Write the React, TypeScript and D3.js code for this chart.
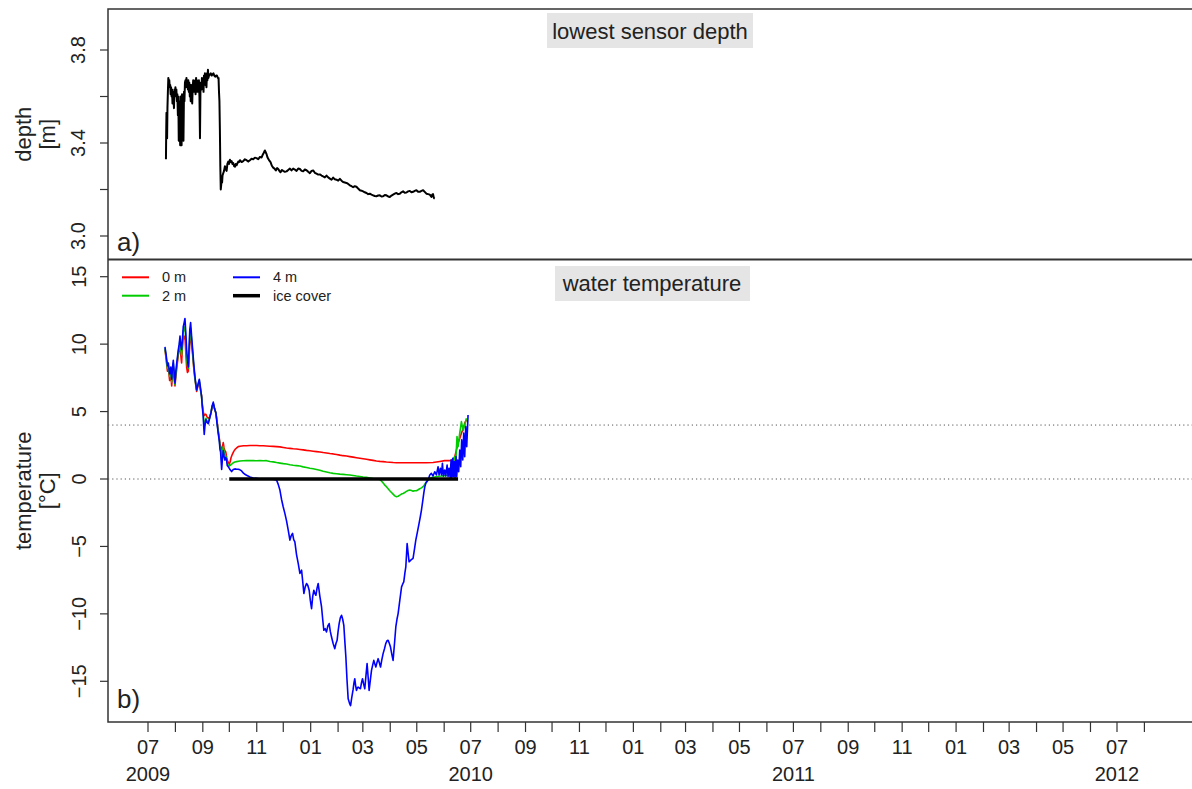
import React from "react";
import * as d3 from "d3";

// time origin: day offsets are counted from 2009-07-01 (UTC)
const T0 = Date.UTC(2009, 6, 1);
const toDate = (d: number) => new Date(T0 + d * 864e5);

// a) lowest sensor depth [m]  — [day since 2009-07-01, depth]
const depthSeries: [number, number][] = [
  [20.3,3.33],[20.6,3.45],[20.9,3.53],[21.2,3.44],[21.6,3.42],[22.0,3.55],[22.5,3.62],[23.0,3.68],[23.5,3.66],[24.1,3.67],
  [24.6,3.64],[25.1,3.65],[25.6,3.61],[26.1,3.64],[26.7,3.60],[27.2,3.63],[27.7,3.57],[28.3,3.62],[28.8,3.59],[29.4,3.55],
  [29.9,3.63],[30.4,3.60],[31.0,3.64],[31.6,3.61],[32.1,3.63],[32.7,3.58],[33.2,3.61],[33.8,3.52],[34.3,3.60],[34.8,3.41],
  [35.4,3.58],[35.9,3.46],[36.4,3.39],[36.9,3.60],[37.4,3.50],[38.0,3.39],[38.5,3.61],[39.0,3.44],[39.5,3.56],[40.1,3.41],
  [40.7,3.62],[41.2,3.58],[41.8,3.66],[42.4,3.67],[42.9,3.64],[43.5,3.68],[44.0,3.65],[44.6,3.67],[45.1,3.63],[45.6,3.67],
  [46.2,3.62],[46.7,3.66],[47.3,3.60],[47.8,3.64],[48.3,3.58],[48.9,3.65],[49.4,3.61],[50.0,3.57],[50.5,3.63],[51.1,3.67],
  [51.6,3.62],[52.2,3.66],[52.7,3.63],[53.3,3.67],[53.8,3.61],[54.4,3.68],[54.9,3.64],[55.4,3.67],[56.0,3.62],[56.5,3.66],
  [57.1,3.63],[57.6,3.67],[58.2,3.60],[58.8,3.42],[59.3,3.62],[59.9,3.66],[60.5,3.63],[61.0,3.68],[61.6,3.64],[62.2,3.67],
  [62.8,3.62],[63.3,3.69],[63.9,3.66],[64.4,3.70],[65.0,3.65],[65.5,3.68],[66.1,3.64],[66.7,3.70],[67.2,3.67],[67.8,3.715],
  [68.3,3.68],[69.0,3.69],[70.0,3.695],[71.0,3.70],[72.0,3.69],[73.0,3.695],[74.0,3.70],[75.0,3.69],[76.0,3.685],[77.0,3.69],
  [78.0,3.69],[79.0,3.68],[79.8,3.68],[80.3,3.62],[80.8,3.58],[81.3,3.46],[81.8,3.30],[82.3,3.20],[82.8,3.22],[83.3,3.25],
  [83.8,3.23],[84.3,3.26],[85.1,3.27],[86.0,3.28],[87.0,3.30],[87.8,3.29],[88.9,3.28],[89.8,3.31],[90.8,3.32],[91.7,3.31],
  [92.7,3.328],[93.6,3.318],[94.6,3.322],[95.5,3.31],[96.4,3.314],[97.4,3.30],[98.3,3.298],[99.2,3.31],[100.2,3.304],[101.1,3.312],
  [102.1,3.32],[103.0,3.318],[104.0,3.326],[105.9,3.318],[107.7,3.322],[109.6,3.33],[111.5,3.326],[113.4,3.32],[115.3,3.326],[117.1,3.332],
  [119.0,3.33],[120.9,3.337],[122.8,3.335],[124.7,3.33],[126.6,3.34],[128.5,3.338],[129.6,3.348],[131.0,3.358],[132.2,3.368],[133.1,3.36],
  [134.1,3.352],[135.0,3.34],[136.0,3.332],[137.3,3.324],[138.6,3.318],[140.1,3.302],[141.6,3.294],[143.1,3.29],[144.6,3.282],[146.0,3.292],
  [147.3,3.288],[148.6,3.28],[149.9,3.274],[151.4,3.284],[152.9,3.28],[154.8,3.276],[156.7,3.278],[158.6,3.284],[160.5,3.29],[162.3,3.282],
  [164.2,3.29],[166.1,3.286],[168.0,3.28],[169.9,3.29],[171.8,3.288],[173.7,3.28],[175.5,3.278],[177.4,3.286],[179.3,3.283],[181.2,3.276],
  [183.1,3.27],[185.0,3.28],[186.8,3.282],[188.7,3.272],[190.6,3.268],[192.5,3.264],[194.4,3.265],[196.3,3.26],[198.1,3.256],[200.0,3.252],
  [201.9,3.26],[203.8,3.252],[205.7,3.247],[207.6,3.242],[209.4,3.251],[211.3,3.244],[213.2,3.242],[215.1,3.238],[217.0,3.246],[218.9,3.238],
  [220.7,3.232],[222.6,3.23],[224.5,3.228],[226.4,3.224],[228.3,3.218],[230.2,3.214],[232.0,3.21],[233.9,3.214],[235.8,3.212],[237.7,3.204],
  [239.6,3.197],[241.5,3.195],[243.3,3.192],[245.2,3.188],[247.1,3.185],[249.0,3.18],[250.9,3.182],[252.8,3.178],[254.6,3.175],[256.5,3.172],
  [258.4,3.171],[260.3,3.174],[262.2,3.175],[264.1,3.17],[265.9,3.171],[267.8,3.176],[269.7,3.175],[271.6,3.17],[273.5,3.168],[275.4,3.174],
  [277.2,3.178],[279.1,3.182],[281.0,3.185],[282.9,3.18],[284.8,3.182],[286.6,3.188],[288.5,3.192],[290.4,3.186],[292.3,3.187],[294.2,3.192],
  [296.1,3.194],[298.0,3.188],[299.9,3.19],[301.7,3.194],[303.6,3.197],[305.5,3.19],[307.4,3.19],[309.3,3.194],[311.2,3.197],[313.0,3.19],
  [314.9,3.182],[316.8,3.18],[318.7,3.178],[320.6,3.168],[321.5,3.178],[322.4,3.18],[323.4,3.163],[324.3,3.161],
];

// b) water temperature [°C] — [day since 2009-07-01, temperature]
const temp0m: [number, number][] = [
  [19.2,9.6],[20.5,8.9],[22.0,8.0],[23.0,8.2],[24.5,7.3],[25.8,7.8],[26.8,6.9],[27.8,7.8],[28.6,8.3],[29.5,7.5],
  [30.5,6.9],[31.5,7.6],[32.5,8.2],[34.3,9.2],[35.3,9.6],[36.2,10.2],[37.1,9.2],[38.0,8.6],[39.0,9.8],[39.9,10.6],
  [40.9,10.4],[41.8,10.6],[42.8,9.3],[43.7,8.3],[44.6,7.9],[45.6,8.0],[46.5,9.0],[47.3,10.2],[48.2,10.8],[49.3,10.0],
  [50.5,9.2],[51.8,8.2],[53.1,7.4],[54.0,7.0],[55.0,6.5],[56.5,6.9],[58.0,7.2],[59.3,6.6],[60.6,6.2],[61.5,5.5],
  [62.5,5.0],[63.1,4.8],[63.6,4.7],[64.5,4.8],[65.5,4.8],[66.8,4.6],[68.2,4.5],[69.7,4.6],[71.2,4.9],[72.5,5.3],
  [73.8,5.6],[75.3,5.2],[76.8,4.9],[78.1,4.3],[79.4,3.6],[80.7,3.0],[81.4,2.6],[82.1,2.4],[83.3,1.9],[84.2,2.4],
  [85.1,2.7],[86.0,2.3],[87.0,2.1],[88.0,2.0],[89.0,1.6],[90.0,1.35],[91.0,1.2],[92.0,1.1],[93.0,1.3],[94.0,1.6],
  [95.5,1.85],[97.0,2.05],[98.5,2.2],[100.2,2.3],[102.1,2.4],[104.0,2.43],[106.0,2.45],[108.0,2.47],[111.5,2.47],[115.3,2.48],
  [119.0,2.48],[122.8,2.48],[126.6,2.47],[130.3,2.46],[134.1,2.45],[137.9,2.43],[141.6,2.42],[145.4,2.4],[149.2,2.38],[153.0,2.34],
  [156.7,2.3],[160.5,2.27],[164.2,2.24],[168.0,2.22],[171.8,2.19],[175.5,2.16],[179.3,2.12],[183.1,2.09],[186.8,2.06],[190.6,2.03],
  [194.4,2.0],[198.1,1.96],[201.9,1.93],[205.7,1.89],[209.4,1.86],[213.2,1.82],[217.0,1.77],[220.7,1.73],[224.5,1.7],[228.3,1.66],
  [232.0,1.62],[235.8,1.58],[239.6,1.54],[243.3,1.5],[247.1,1.46],[250.9,1.42],[254.6,1.38],[258.4,1.34],[262.2,1.31],[265.9,1.29],
  [269.7,1.26],[273.5,1.24],[277.2,1.22],[281.0,1.21],[284.8,1.21],[292.3,1.21],[299.9,1.21],[307.4,1.21],[314.9,1.21],[322.4,1.22],
  [326.2,1.26],[330.0,1.3],[335.6,1.36],[341.3,1.36],[345.0,1.45],[347.0,1.66],[349.0,2.2],[350.7,2.65],[352.6,3.0],[354.5,3.4],
  [356.4,3.7],[358.2,4.14],[360.2,4.38],
];

const temp2m: [number, number][] = [
  [19.2,9.7],[20.5,9.0],[22.0,8.2],[23.0,8.4],[24.5,7.6],[25.8,8.1],[26.8,7.2],[27.8,8.1],[28.6,8.6],[29.5,7.8],
  [30.5,7.0],[31.5,7.8],[32.5,8.4],[34.3,9.4],[35.3,9.8],[36.2,10.4],[37.1,9.6],[38.0,9.2],[39.0,10.1],[39.9,11.0],
  [40.9,11.0],[41.8,11.3],[42.8,10.2],[43.7,9.0],[44.6,8.4],[45.6,8.2],[46.5,9.4],[47.3,10.7],[48.2,11.2],[49.3,10.3],
  [50.5,9.4],[51.8,8.3],[53.1,7.5],[54.0,7.0],[55.0,6.6],[56.5,7.0],[58.0,7.3],[59.3,6.7],[60.6,6.1],[61.5,5.4],
  [62.5,4.8],[63.1,4.2],[63.6,3.9],[64.5,4.2],[65.5,4.5],[66.8,4.3],[68.2,4.2],[69.7,4.5],[71.2,4.9],[72.5,5.4],
  [73.8,5.6],[75.3,5.2],[76.8,4.9],[78.1,4.2],[79.4,3.5],[80.7,2.9],[81.4,2.4],[82.1,2.2],[83.3,1.4],[84.2,2.0],
  [85.1,2.4],[86.0,2.0],[87.0,1.8],[88.0,1.7],[88.9,1.5],[89.6,1.2],[90.8,1.0],[91.9,0.95],[92.7,1.0],[94.6,1.1],
  [96.4,1.2],[98.3,1.26],[100.2,1.29],[104.0,1.33],[107.7,1.35],[111.5,1.36],[115.3,1.37],[119.0,1.36],[122.8,1.35],[126.6,1.36],
  [130.3,1.35],[134.1,1.36],[137.9,1.3],[141.6,1.27],[145.4,1.22],[149.2,1.18],[153.0,1.14],[156.7,1.11],[160.5,1.06],[164.2,1.02],
  [168.0,0.99],[171.8,0.96],[175.5,0.9],[179.3,0.85],[183.1,0.8],[186.8,0.76],[190.6,0.71],[194.4,0.65],[198.1,0.58],[201.9,0.52],
  [205.7,0.46],[209.4,0.42],[213.2,0.39],[217.0,0.36],[220.7,0.34],[224.5,0.32],[228.3,0.3],[232.0,0.26],[235.8,0.22],[239.6,0.19],
  [243.3,0.15],[247.1,0.12],[250.9,0.08],[254.6,0.04],[258.4,0.01],[262.2,-0.03],[264.0,-0.15],[266.0,-0.3],[267.8,-0.45],[269.7,-0.57],
  [271.6,-0.72],[273.5,-0.87],[275.4,-1.0],[277.2,-1.12],[279.1,-1.25],[281.0,-1.31],[282.9,-1.28],[284.8,-1.2],[286.6,-1.12],[288.5,-1.07],
  [290.4,-1.0],[292.3,-0.92],[294.2,-0.85],[296.0,-0.82],[298.0,-0.86],[299.8,-0.9],[301.7,-0.87],[303.6,-0.87],[305.5,-0.8],[307.4,-0.72],
  [309.3,-0.66],[311.1,-0.57],[313.0,-0.4],[314.9,-0.2],[316.8,0.0],[320.5,0.1],[324.3,0.15],[328.1,0.2],[331.9,0.22],[335.6,0.25],
  [339.4,0.3],[343.2,0.5],[345.0,0.91],[346.9,1.66],[348.2,1.4],[349.5,3.14],[350.7,2.4],[352.6,3.4],[354.5,4.26],[356.4,3.6],
  [358.2,4.0],[360.2,4.5],
];

const temp4m: [number, number][] = [
  [19.2,9.8],[20.5,9.2],[22.0,8.4],[23.0,8.6],[24.5,7.8],[25.8,8.3],[26.8,7.4],[27.8,8.3],[28.6,8.8],[29.5,8.0],
  [30.5,7.1],[31.5,8.0],[32.5,8.6],[34.3,9.6],[35.3,10.0],[36.2,10.6],[37.1,9.9],[38.0,9.6],[39.0,10.4],[39.9,11.3],
  [40.9,11.6],[41.8,11.9],[42.8,10.8],[43.7,9.6],[44.6,8.9],[45.6,8.3],[46.5,9.8],[47.3,11.1],[48.2,11.6],[49.3,10.6],
  [50.5,9.6],[51.8,8.5],[53.1,7.6],[54.0,7.1],[55.0,6.6],[56.5,7.0],[58.0,7.4],[59.3,6.8],[60.6,6.1],[61.5,5.3],
  [62.5,4.6],[63.1,3.8],[63.6,3.3],[64.5,4.0],[65.5,4.4],[66.8,4.2],[68.2,4.1],[69.7,4.5],[71.2,4.9],[72.5,5.4],
  [73.8,5.7],[75.3,5.2],[76.8,4.9],[78.1,4.1],[79.4,3.4],[80.7,2.8],[81.4,2.2],[82.1,2.0],[83.3,0.7],[84.2,1.5],
  [85.1,2.1],[86.0,1.7],[87.0,1.4],[88.0,1.6],[88.9,1.4],[89.6,1.0],[90.8,0.9],[91.9,0.8],[92.7,0.7],[94.6,0.55],
  [96.4,0.7],[98.3,0.75],[100.2,0.72],[102.1,0.72],[104.0,0.68],[105.9,0.6],[107.7,0.45],[109.6,0.35],[111.5,0.28],[115.3,0.15],
  [119.0,0.08],[124.7,0.03],[130.3,0.02],[137.0,0.0],[141.6,-0.02],[145.4,-0.07],[147.3,-0.4],[149.2,-0.82],[151.0,-1.5],[152.9,-2.06],
  [154.8,-2.55],[156.7,-3.1],[158.6,-3.79],[160.5,-4.53],[162.0,-4.2],[163.5,-4.03],[164.8,-4.5],[166.1,-4.66],[168.0,-5.6],[169.9,-6.26],
  [171.8,-7.0],[172.8,-6.9],[173.7,-6.76],[175.0,-7.6],[176.3,-8.49],[177.8,-8.0],[179.3,-7.75],[180.8,-7.9],[182.3,-8.25],[183.6,-9.0],
  [185.0,-9.61],[186.3,-8.7],[187.6,-8.25],[188.8,-8.5],[189.9,-8.62],[191.2,-8.1],[192.5,-7.75],[194.4,-8.7],[196.3,-9.49],[197.6,-10.4],
  [198.9,-11.22],[200.4,-11.1],[201.9,-11.34],[203.4,-10.9],[204.9,-10.72],[206.2,-11.3],[207.6,-11.72],[209.4,-12.2],[211.3,-12.58],[212.6,-12.2],
  [213.9,-11.96],[215.0,-11.3],[216.2,-10.72],[217.5,-10.3],[218.9,-10.1],[220.2,-10.4],[221.5,-10.85],[222.6,-12.0],[223.8,-13.2],[225.1,-14.9],
  [226.4,-16.3],[227.8,-16.6],[229.1,-16.8],[230.5,-16.2],[232.0,-15.6],[233.0,-15.1],[233.9,-14.81],[234.8,-15.3],[235.8,-15.68],[236.7,-15.5],
  [237.7,-15.43],[239.0,-15.5],[240.3,-15.55],[241.5,-15.1],[242.6,-14.81],[243.9,-15.2],[245.2,-15.55],[246.5,-14.6],[247.8,-13.69],[249.0,-14.7],
  [250.1,-15.68],[251.5,-14.9],[252.8,-14.19],[254.1,-13.8],[255.4,-13.45],[256.5,-13.7],[257.7,-13.94],[259.0,-13.6],[260.3,-13.32],[261.6,-13.6],
  [263.0,-13.94],[264.5,-13.4],[265.9,-12.95],[267.4,-12.6],[268.9,-12.21],[270.3,-12.0],[271.6,-11.96],[273.0,-12.2],[274.3,-12.46],[275.8,-13.0],
  [277.2,-13.45],[278.8,-12.2],[280.3,-10.97],[281.6,-10.4],[282.9,-9.98],[284.8,-9.0],[286.8,-8.0],[288.0,-7.8],[289.3,-7.63],[290.5,-7.0],
  [291.6,-6.52],[292.4,-5.6],[293.1,-4.78],[294.2,-5.5],[295.3,-6.14],[297.5,-6.0],[299.8,-5.89],[301.4,-5.2],[302.9,-4.53],[304.8,-3.9],
  [306.6,-3.29],[308.0,-2.8],[309.3,-2.3],[310.6,-1.7],[311.9,-1.06],[313.0,-0.6],[314.2,-0.32],[316.8,-0.07],[318.7,0.3],[320.5,0.42],
  [322.4,0.22],[324.3,0.54],[326.2,0.3],[328.1,0.91],[329.2,0.3],[330.7,0.79],[331.9,0.3],[333.0,1.16],[334.1,0.22],[335.6,0.67],
  [336.8,0.22],[338.3,1.04],[339.4,0.17],[340.5,0.79],[341.7,0.12],[342.8,1.41],[343.5,0.12],[344.7,1.53],[345.4,0.17],[346.6,1.29],
  [347.3,0.12],[348.4,1.66],[349.2,0.17],[350.3,1.41],[351.4,0.54],[352.6,2.15],[353.7,0.91],[354.8,2.9],[356.0,1.41],[357.1,3.4],
  [358.2,1.66],[359.4,3.89],[360.5,2.4],[362.0,4.75],
];

// ice cover period (start, end) drawn at 0 °C
const iceCover: [number, number][] = [[91.9, 0], [350.7, 0]];

const depthTicks = [3.0, 3.2, 3.4, 3.6, 3.8];
const depthTickLabels = ["3.0", "", "3.4", "", "3.8"];
const tempTicks = [-15, -10, -5, 0, 5, 10, 15];
const tempRefLines = [0, 4];
const yearLabels = ["2009", "2010", "2011", "2012"];
const legendLabels = ["0 m", "2 m", "4 m", "ice cover"];
const seriesColors = ["#ff0000", "#00cc00", "#0000ff", "#000000"];
const panelTitles = ["lowest sensor depth", "water temperature"];
const panelLetters = ["a)", "b)"];

const W = 1192, H = 789;
const L = 108, RR = 1200;
const TOP_A = 9, SEP = 259.5, BOT = 722;
const FONT = "Liberation Sans, Arial, Helvetica, sans-serif";

export default function App() {
  const x = d3.scaleUtc()
    .domain([new Date(Date.UTC(2009, 6, 1)), new Date(Date.UTC(2012, 6, 1))])
    .range([148, 1117]);
  const yD = d3.scaleLinear().domain([3.0, 3.8]).range([236, 50]);
  const yT = d3.scaleLinear().domain([0, 15]).range([479, 276.7]);

  const lineD = d3.line<[number, number]>().x(d => x(toDate(d[0]))).y(d => yD(d[1]));
  const lineT = d3.line<[number, number]>().x(d => x(toDate(d[0]))).y(d => yT(d[1]));

  const months = d3.utcMonth.range(new Date(Date.UTC(2009, 6, 1)), new Date(Date.UTC(2012, 8, 1)));
  const fmt = d3.utcFormat("%m");

  const tempSeries = [temp0m, temp2m, temp4m];
  const minus = (v: number) => (v < 0 ? "\u2212" + Math.abs(v) : String(v));

  return (
    <svg width={W} height={H} style={{ position: "absolute", left: 0, top: 0, background: "#fff" }} fontFamily={FONT}>
      {/* frame */}
      <rect x={L} y={TOP_A} width={RR - L} height={BOT - TOP_A} fill="none" stroke="#333" strokeWidth={1.5} />
      <line x1={L} x2={RR} y1={SEP} y2={SEP} stroke="#333" strokeWidth={2} />

      {/* panel a: ticks */}
      {depthTicks.map((t, i) => (
        <g key={"dt" + i}>
          <line x1={L - 8} x2={L} y1={yD(t)} y2={yD(t)} stroke="#333" strokeWidth={1.2} />
          {depthTickLabels[i] && (
            <text transform={`translate(${85},${yD(t)}) rotate(-90)`} textAnchor="middle" fontSize={20} fill="#222">
              {depthTickLabels[i]}
            </text>
          )}
        </g>
      ))}
      <text transform={`translate(31,${(TOP_A + SEP) / 2}) rotate(-90)`} textAnchor="middle" fontSize={22} fill="#222">depth</text>
      <text transform={`translate(55,${(TOP_A + SEP) / 2}) rotate(-90)`} textAnchor="middle" fontSize={22} fill="#222">[m]</text>

      <rect x={547} y={13} width={206} height={35} fill="#e5e5e5" />
      <text x={650} y={38.5} textAnchor="middle" fontSize={22} fill="#222">{panelTitles[0]}</text>
      <text x={117} y={251} fontSize={26} fill="#222">{panelLetters[0]}</text>

      <path d={lineD(depthSeries) || ""} fill="none" stroke="#000" strokeWidth={2} strokeLinejoin="round" />

      {/* panel b */}
      {tempTicks.map((t, i) => (
        <g key={"tt" + i}>
          <line x1={L - 8} x2={L} y1={yT(t)} y2={yT(t)} stroke="#333" strokeWidth={1.2} />
          <text transform={`translate(${86},${yT(t)}) rotate(-90)`} textAnchor="middle" fontSize={20} fill="#222">
            {minus(t)}
          </text>
        </g>
      ))}
      <text transform={`translate(31,${(SEP + BOT) / 2}) rotate(-90)`} textAnchor="middle" fontSize={22} fill="#222">temperature</text>
      <text transform={`translate(55,${(SEP + BOT) / 2}) rotate(-90)`} textAnchor="middle" fontSize={22} fill="#222">[°C]</text>

      {tempRefLines.map((v, i) => (
        <line key={"rl" + i} x1={L} x2={RR} y1={yT(v)} y2={yT(v)} stroke="#555" strokeWidth={1} strokeDasharray="1.2 3" />
      ))}

      <rect x={555} y={266} width={195} height={35} fill="#e5e5e5" />
      <text x={652} y={291} textAnchor="middle" fontSize={22} fill="#222">{panelTitles[1]}</text>
      <text x={117} y={708} fontSize={26} fill="#222">{panelLetters[1]}</text>

      {tempSeries.map((s, i) => (
        <path key={"ts" + i} d={lineT(s) || ""} fill="none" stroke={seriesColors[i]} strokeWidth={1.6} strokeLinejoin="round" />
      ))}
      <path d={lineT(iceCover) || ""} fill="none" stroke="#000" strokeWidth={3.5} />

      {/* legend */}
      {legendLabels.map((lab, i) => {
        const col = i < 2 ? 0 : 1;
        const row = i % 2;
        const lx = col === 0 ? 122 : 233;
        const ly = row === 0 ? 277.3 : 295.7;
        return (
          <g key={"lg" + i}>
            <line x1={lx} x2={lx + 27} y1={ly} y2={ly} stroke={seriesColors[i]} strokeWidth={i === 3 ? 3.5 : 2} />
            <text x={lx + 40} y={ly + 5} fontSize={14.5} fill="#222">{lab}</text>
          </g>
        );
      })}

      {/* x axis */}
      {months.map((m, i) => {
        const mo = m.getUTCMonth();
        const px = x(m);
        return (
          <g key={"mx" + i}>
            <line x1={px} x2={px} y1={BOT} y2={BOT + 10} stroke="#333" strokeWidth={1.2} />
            {mo % 2 === 0 && (
              <text x={px} y={754} textAnchor="middle" fontSize={20} fill="#222">{fmt(m)}</text>
            )}
            {mo === 6 && (
              <text x={px} y={781} textAnchor="middle" fontSize={20} fill="#222">{yearLabels[m.getUTCFullYear() - 2009]}</text>
            )}
          </g>
        );
      })}
    </svg>
  );
}
